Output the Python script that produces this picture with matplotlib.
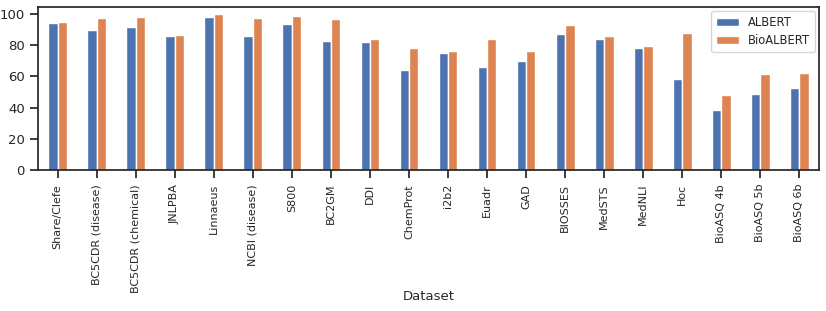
import matplotlib
matplotlib.use("Agg")
import matplotlib.pyplot as plt
import numpy as np
import seaborn as sns

sns.set_theme(style="ticks")

datasets = ["Share/Clefe", "BC5CDR (disease)", "BC5CDR (chemical)", "JNLPBA", "Linnaeus",
            "NCBI (disease)", "S800", "BC2GM", "DDI", "ChemProt", "i2b2", "Euadr", "GAD",
            "BIOSSES", "MedSTS", "MedNLI", "Hoc", "BioASQ 4b", "BioASQ 5b", "BioASQ 6b"]
albert = [94.0, 89.5, 91.4, 85.6, 97.9, 85.6, 93.3, 83.0, 81.8, 64.4, 74.7, 66.3, 70.2,
          86.9, 84.3, 77.9, 58.6, 38.6, 48.9, 52.8]
bioalbert = [94.6, 97.2, 97.9, 86.3, 99.8, 97.2, 98.5, 96.6, 83.7, 77.9, 76.6, 84.3, 76.6,
             92.7, 85.6, 79.2, 87.6, 48.3, 61.8, 62.4]

fig = plt.figure(figsize=(8.26, 3.11), dpi=100)
ax = fig.add_axes([38/826, 1 - 170/311, (819-38)/826, (170-7)/311])
x = np.arange(len(datasets))
w = 0.24
c = sns.color_palette("deep")
ax.bar(x - w/2, albert, w, color=c[0], label="ALBERT")
ax.bar(x + w/2, bioalbert, w, color=c[1], label="BioALBERT")
ax.set_xlim(-0.5, len(datasets) - 0.5)
ax.set_ylim(0, 104.5)
ax.set_yticks([0, 20, 40, 60, 80, 100])
ax.set_xticks(x)
ax.set_xticklabels(datasets, rotation=90, fontsize=8)
ax.tick_params(axis="y", labelsize=9.5)
ax.tick_params(axis="x", pad=4)
ax.set_xlabel("Dataset", fontsize=9.5)
ax.xaxis.set_label_coords(0.5, -(296 - 170) / 163, transform=ax.transAxes)
ax.get_xaxis().label.set_verticalalignment("center")
ax.legend(loc="upper right", fontsize=8.3, borderaxespad=0.35)
fig.savefig("out.png", dpi=100)
